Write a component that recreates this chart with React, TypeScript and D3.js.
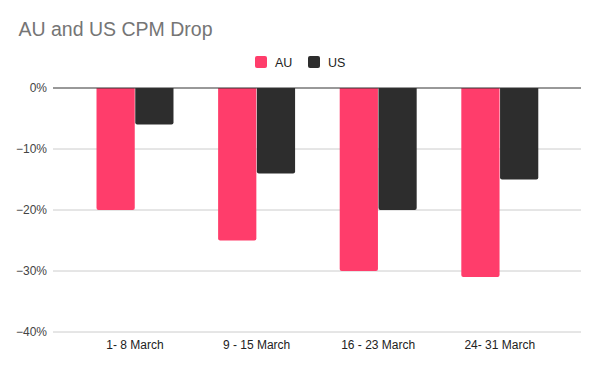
import React from 'react'
import * as d3 from 'd3'

const categories = ['1- 8 March', '9 - 15 March', '16 - 23 March', '24- 31 March']
const seriesNames = ['AU', 'US']
const auValues = [-20, -25, -30, -31]
const usValues = [-6, -14, -20, -15]
const yTicks = [0, -10, -20, -30, -40]
const colors = ['#ff3d6b', '#2d2d2d']

const W = 600
const H = 371
const font = 'Arial, "Liberation Sans", sans-serif'

// path for a bar hanging down from y0 to y1 with rounded bottom corners
function barPath(x: number, w: number, y0: number, y1: number, r: number) {
  const rr = Math.min(r, (y1 - y0) / 2, w / 2)
  return `M${x},${y0} H${x + w} V${y1 - rr} Q${x + w},${y1} ${x + w - rr},${y1} H${x + rr} Q${x},${y1} ${x},${y1 - rr} Z`
}

export default function App() {
  const gridLeft = 53
  const gridRight = 581
  const y = d3.scaleLinear().domain([0, -40]).range([88, 332])
  const x0 = d3.scaleBand<string>().domain(categories).range([74.2, 560.6]).paddingInner(0.367).paddingOuter(0.1835)
  const x1 = d3.scaleBand<string>().domain(seriesNames).range([0, x0.bandwidth()]).paddingInner(0.013)
  const series = [auValues, usValues]
  const legendX = [255, 308]

  return (
    <svg width={W} height={H} style={{ position: 'absolute', left: 0, top: 0, background: '#fff' }} fontFamily={font}>
      <text x={18.5} y={36} fontSize={19.5} fill="#757575">AU and US CPM Drop</text>

      {/* legend */}
      <g fontSize={12.5} fill="#222">
        {seriesNames.map((s, i) => (
          <g key={s}>
            <rect x={legendX[i]} y={56} width={12} height={12} rx={2} fill={colors[i]} />
            <text x={legendX[i] + 20} y={66.5}>{s}</text>
          </g>
        ))}
      </g>

      {/* gridlines & y labels */}
      {yTicks.map(t => (
        <g key={t}>
          {t !== 0 && <line x1={gridLeft} x2={gridRight} y1={y(t)} y2={y(t)} stroke="#cccccc" strokeWidth={1} />}
          <text x={47} y={y(t) + 4} textAnchor="end" fontSize={12} fill="#444">{d3.format('.0%')(t / 100)}</text>
        </g>
      ))}

      {/* bars */}
      {categories.map((c, ci) => (
        <g key={c} transform={`translate(${x0(c)},0)`}>
          {series.map((vals, si) => (
            <path key={si} d={barPath(x1(seriesNames[si])!, x1.bandwidth(), y(0), y(vals[ci]), 2)} fill={colors[si]} />
          ))}
        </g>
      ))}

      <line x1={gridLeft} x2={gridRight} y1={y(0)} y2={y(0)} stroke="#333" strokeWidth={1} />

      {/* x labels */}
      {categories.map(c => (
        <text key={c} x={x0(c)! + x0.bandwidth() / 2} y={349} textAnchor="middle" fontSize={12} fill="#222">{c}</text>
      ))}
    </svg>
  )
}
